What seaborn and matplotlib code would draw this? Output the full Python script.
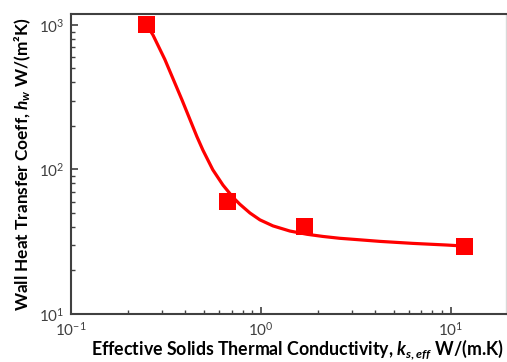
import matplotlib
matplotlib.use("Agg")
import matplotlib.pyplot as plt
from matplotlib.ticker import LogLocator, NullFormatter
import seaborn as sns
import pandas as pd

# Measured points
k_eff = [0.25, 0.67, 1.7, 11.8]
h_wall = [1000, 60, 40, 29.5]

# Smooth trend line through the measurements
k_curve = [0.25, 0.270, 0.312, 0.384, 0.460, 0.495, 0.558, 0.631, 0.713, 0.774,
           0.875, 0.988, 1.157, 1.42, 1.75, 2.12, 2.60, 2.94, 4.23, 6.31, 9.53, 11.8]
h_curve = [1000, 853, 577, 303, 169, 136, 99.5, 78.0, 64.1, 57.5,
           50.0, 44.8, 40.7, 37.5, 35.6, 34.4, 33.4, 33.0, 31.8, 30.8, 30.0, 29.5]

sns.set_theme(style="ticks")
plt.rcParams["font.family"] = ["Lato", "DejaVu Sans"]
plt.rcParams["mathtext.fontset"] = "custom"
plt.rcParams["mathtext.rm"] = "Lato:bold"
plt.rcParams["mathtext.it"] = "Lato:italic:bold"
plt.rcParams["mathtext.bf"] = "Lato:bold"

pts = pd.DataFrame({"k": k_eff, "h": h_wall})
crv = pd.DataFrame({"k": k_curve, "h": h_curve})

fig = plt.figure(figsize=(5.07, 3.62), dpi=100)
ax = fig.add_axes([0.140, 0.1326, 0.858, 0.8287])

line_kw = dict(solid_joinstyle="round", solid_capstyle="round")
sns.lineplot(data=crv, x="k", y="h", ax=ax, color="#FF0000", linewidth=2.3,
             sort=False, **line_kw)
sns.scatterplot(data=pts, x="k", y="h", ax=ax, color="#FF0000", marker="s", s=150,
                edgecolor="none", zorder=3)

ax.set_xscale("log")
ax.set_yscale("log")
ax.set_xlim(0.1, 19.5)
ax.set_ylim(10, 1190)

for side in ["left", "bottom", "top"]:
    ax.spines[side].set_color("#404040")
    ax.spines[side].set_linewidth(1.5)
ax.spines["right"].set_color("#d9d9d9")
ax.spines["right"].set_linewidth(1.0)

ax.xaxis.set_major_locator(LogLocator(base=10, numticks=10))
ax.xaxis.set_minor_locator(LogLocator(base=10, subs=range(2, 10), numticks=10))
ax.yaxis.set_major_locator(LogLocator(base=10, numticks=10))
ax.yaxis.set_minor_locator(LogLocator(base=10, subs=range(2, 10), numticks=10))
ax.xaxis.set_minor_formatter(NullFormatter())
ax.yaxis.set_minor_formatter(NullFormatter())

ax.tick_params(axis="both", which="major", direction="in", length=5, width=1.2,
               color="#404040", labelsize=11, labelcolor="#404040", pad=5)
ax.tick_params(axis="both", which="minor", direction="in", length=3, width=1.0,
               color="#404040")
ax.tick_params(top=False, right=False, which="both")

ax.set_xlabel(r"Effective Solids Thermal Conductivity, $k_{s,eff}$ W/(m.K)",
              fontsize=12.8, fontweight="bold", color="black", labelpad=0)
ax.xaxis.set_label_coords(0.52, -0.078)
ax.set_ylabel(r"Wall Heat Transfer Coeff, $h_w$ W/(m²K)",
              fontsize=12.4, fontweight="bold", color="black", labelpad=4)

fig.savefig("out.png", dpi=100)
